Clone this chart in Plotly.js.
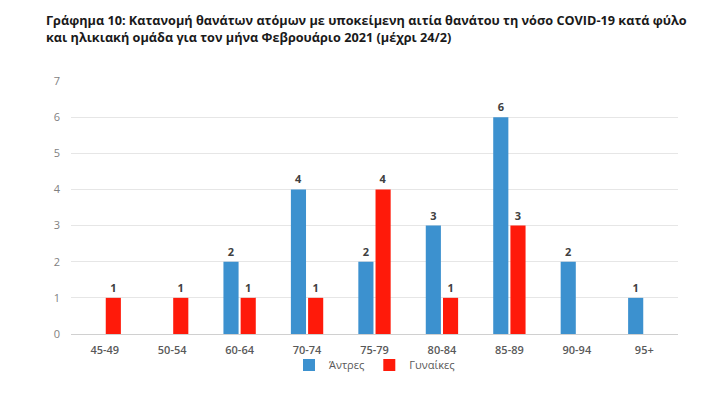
<!DOCTYPE html>
<html><head><meta charset="utf-8">
<script src="https://cdn.plot.ly/plotly-3.0.1.min.js"></script>
<style>body{margin:0;background:#fff}#c{width:714px;height:393px}</style>
</head><body><div id="c"></div>
<script>
const categories = ["45-49","50-54","60-64","70-74","75-79","80-84","85-89","90-94","95+"];
const men   = [null, null, 2, 4, 2, 3, 6, 2, 1];
const women = [1, 1, 1, 1, 4, 1, 3, null, null];
const seriesNames = ["Άντρες", "Γυναίκες"];
const titleText = "Γράφημα 10: Κατανομή θανάτων ατόμων με υποκείμενη αιτία θανάτου τη νόσο COVID-19 κατά φύλο<br>και ηλικιακή ομάδα για τον μήνα Φεβρουάριο 2021 (μέχρι 24/2)";

const lblFont = {family:"Open Sans, sans-serif", size:11, color:"#404040", weight:700};
function mk(y, name, color){
  return {type:"bar", x:categories, y:y, name:name, marker:{color:color},
    text:y.map(v=>v==null?"":String(v)), textposition:"outside", cliponaxis:false,
    textfont:lblFont, hoverinfo:"skip"};
}
const data = [mk(men, seriesNames[0], "#3c91cf"), mk(women, seriesNames[1], "#ff1a0a")];
const layout = {
  width:714, height:393, margin:{l:71, r:36, t:81, b:59, autoexpand:false},
  paper_bgcolor:"#fff", plot_bgcolor:"#fff",
  annotations:[{text:titleText, xref:"paper", yref:"paper", x:-0.045, xanchor:"left", y:1.285, yanchor:"top",
    align:"left", showarrow:false,
    font:{family:"Open Sans, sans-serif", size:12.7, color:"#1a1a1a", weight:700}}],
  bargap:0.49, bargroupgap:0.12, barmode:"group",
  xaxis:{type:"category", showgrid:false, showline:true, linecolor:"#d0d0d0", linewidth:1,
    ticks:"", tickfont:{family:"Open Sans, sans-serif", size:11, color:"#595959", weight:600}, ticklabelstandoff:6},
  yaxis:{range:[0,7], dtick:1, showgrid:true, gridcolor:"#e6e6e6", zeroline:false, showline:false,
    tickfont:{family:"Open Sans, sans-serif", size:11, color:"#7f7f7f"}, ticklabelstandoff:10},
  legend:{orientation:"h", x:0.5, xanchor:"center", yref:"container", y:0.071, yanchor:"middle",
    bgcolor:"rgba(0,0,0,0)", tracegroupgap:0,
    font:{family:"Open Sans, sans-serif", size:11, color:"#595959"}, itemwidth:30, traceorder:"normal"},
  showlegend:true
};
Plotly.newPlot("c", data, layout, {displayModeBar:false, staticPlot:true});
</script></body></html>
